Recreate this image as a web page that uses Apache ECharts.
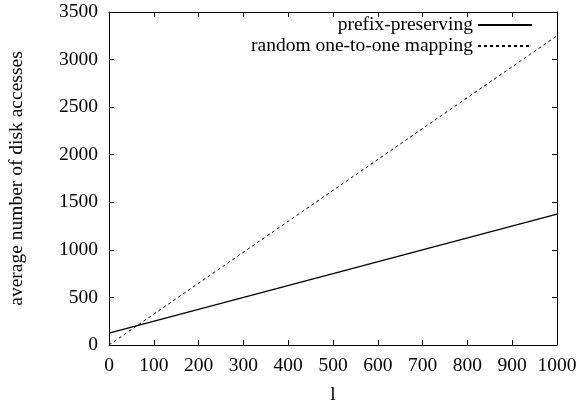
<!DOCTYPE html>
<html>
<head>
<meta charset="utf-8">
<script src="https://cdn.jsdelivr.net/npm/echarts@6/dist/echarts.min.js"></script>
<style>
  html, body { margin: 0; padding: 0; background: #fff; }
  #chart { width: 578px; height: 404px; }
</style>
</head>
<body>
<div id="chart"></div>
<script>
// l values at the two ends of each straight line
const lValues = [0, 1000];
const prefixPreserving = [125, 1375];
const randomMapping = [0, 3250];
const seriesNames = ["prefix-preserving", "random one-to-one mapping"];

const font = "Liberation Serif";
const chart = echarts.init(document.getElementById("chart"));

const toPairs = (ys) => lValues.map((x, i) => [x, ys[i]]);
const plain = (v) => String(v);

const axisCommon = {
  type: "value",
  axisLine: { show: true, onZero: false, lineStyle: { color: "#000", width: 1 } },
  axisTick: { show: true, inside: true, length: 5, lineStyle: { color: "#000" } },
  splitLine: { show: false },
};

const legendCommon = {
  right: 45,
  align: "right",
  padding: 0,
  itemWidth: 54,
  itemHeight: 14,
  itemGap: 12,
  itemStyle: { opacity: 0 },
  textStyle: { fontFamily: font, fontSize: 19.5, color: "#000" },
};

chart.setOption({
  animation: false,
  grid: { left: 109, right: 21, top: 12, bottom: 59, outerBoundsMode: "none" },
  legend: [
    { ...legendCommon, data: [seriesNames[0]], top: 15 },
    { ...legendCommon, data: [seriesNames[1]], top: 36 },
  ],
  xAxis: [
    {
      ...axisCommon,
      min: 0,
      max: 1000,
      interval: 100,
      name: "l",
      nameLocation: "middle",
      nameGap: 40,
      nameTextStyle: { fontFamily: font, fontSize: 19.5, color: "#000" },
      axisLabel: { fontFamily: font, fontSize: 19.5, color: "#000", margin: 11, formatter: plain },
    },
    {
      ...axisCommon,
      position: "top",
      min: 0,
      max: 1000,
      interval: 100,
      axisLabel: { show: false },
    },
  ],
  yAxis: [
    {
      ...axisCommon,
      min: 0,
      max: 3500,
      interval: 500,
      name: "average number of disk accesses",
      nameLocation: "middle",
      nameGap: 82,
      nameTextStyle: { fontFamily: font, fontSize: 19.5, color: "#000" },
      axisLabel: { fontFamily: font, fontSize: 19.5, color: "#000", margin: 11, formatter: plain },
    },
    {
      ...axisCommon,
      position: "right",
      min: 0,
      max: 3500,
      interval: 500,
      axisLabel: { show: false },
    },
  ],
  series: [
    {
      name: seriesNames[0],
      type: "line",
      data: toPairs(prefixPreserving),
      symbol: "none",
      lineStyle: { color: "#000", width: 1.2, type: "solid" },
      itemStyle: { color: "#000" },
    },
    {
      name: seriesNames[1],
      type: "line",
      data: toPairs(randomMapping),
      symbol: "none",
      lineStyle: { color: "#000", width: 1, type: [3, 3] },
      itemStyle: { color: "#000" },
    },
  ],
});
</script>
</body>
</html>
